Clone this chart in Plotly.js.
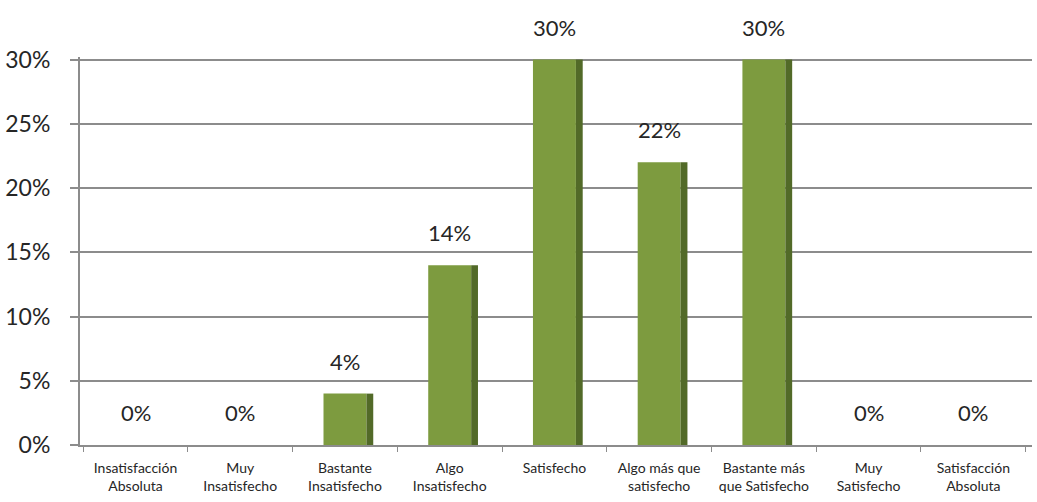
<!DOCTYPE html>
<html>
<head>
<meta charset="utf-8">
<script src="https://cdn.plot.ly/plotly-3.0.1.min.js"></script>
<style>html,body{margin:0;padding:0;background:#fff;}#chart{width:1037px;height:502px;}</style>
</head>
<body>
<div id="chart"></div>
<script>
const categories = [
  "Insatisfacción<br>Absoluta",
  "Muy<br>Insatisfecho",
  "Bastante<br>Insatisfecho",
  "Algo<br>Insatisfecho",
  "Satisfecho",
  "Algo más que<br>satisfecho",
  "Bastante más<br>que Satisfecho",
  "Muy<br>Satisfecho",
  "Satisfacción<br>Absoluta"
];
const values = [0, 0, 0.04, 0.14, 0.30, 0.22, 0.30, 0, 0];
const valueLabels = ["0%", "0%", "4%", "14%", "30%", "22%", "30%", "0%", "0%"];
const yTicks = [0, 0.05, 0.10, 0.15, 0.20, 0.25, 0.30];
const yTickLabels = ["0%", "5%", "10%", "15%", "20%", "25%", "30%"];

const face = {
  type: "bar", x: categories, y: values,
  width: 0.41, offset: -0.205,
  marker: {color: "#7d9b3f", line: {width: 0}},
  hoverinfo: "skip", showlegend: false, cliponaxis: false
};
const side = {
  type: "bar", x: categories, y: values,
  width: 0.065, offset: 0.205,
  marker: {color: "#526a28", line: {width: 0}},
  hoverinfo: "skip", showlegend: false, cliponaxis: false
};

const annotations = categories.map((c, i) => ({
  x: c, y: values[i], xref: "x", yref: "y",
  text: valueLabels[i], showarrow: false,
  yanchor: "bottom", yshift: 17,
  font: {family: "Lato, 'Open Sans', sans-serif", size: 22, color: "#262626"}
}));

const layout = {
  width: 1037, height: 502,
  margin: {l: 80, r: 5, t: 57, b: 57},
  paper_bgcolor: "#fff", plot_bgcolor: "#fff",
  barmode: "overlay",
  xaxis: {
    type: "category", range: [-0.53, 8.56],
    showline: true, linecolor: "#8c8c8c", linewidth: 2,
    ticks: "outside", tickson: "boundaries", ticklen: 5, tickcolor: "#8c8c8c", tickwidth: 1,
    showgrid: false, ticklabelstandoff: 9,
    tickfont: {family: "Lato, 'Open Sans', sans-serif", size: 14, color: "#262626"}
  },
  yaxis: {
    range: [0, 0.302],
    tickvals: yTicks, ticktext: yTickLabels,
    showline: true, linecolor: "#8c8c8c", linewidth: 2,
    ticks: "outside", ticklen: 8, tickcolor: "#8c8c8c", tickwidth: 2,
    showgrid: true, gridcolor: "#8c8c8c", gridwidth: 2,
    zeroline: false, ticklabelstandoff: 15,
    tickfont: {family: "Lato, 'Open Sans', sans-serif", size: 23, color: "#262626"}
  },
  annotations: annotations
};

Plotly.newPlot("chart", [face, side], layout, {displayModeBar: false, staticPlot: true});
</script>
</body>
</html>
